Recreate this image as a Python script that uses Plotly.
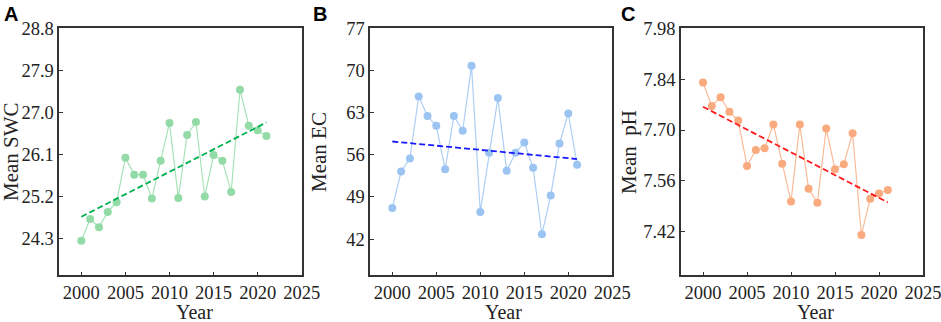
import numpy as np
import plotly.graph_objects as go

years = list(range(2000, 2022))

swc = [24.24, 24.71, 24.53, 24.86, 25.07, 26.02, 25.66, 25.66, 25.15, 25.96, 26.77,
       25.16, 26.51, 26.79, 25.19, 26.08, 25.96, 25.29, 27.48, 26.71, 26.61, 26.49]
ec = [47.19, 53.23, 55.39, 65.70, 62.43, 60.82, 53.62, 62.43, 59.99, 70.80, 46.52,
      56.33, 65.42, 53.34, 56.33, 58.05, 53.84, 42.81, 49.24, 57.88, 62.87, 54.34]
ph = [7.831, 7.766, 7.790, 7.750, 7.726, 7.601, 7.645, 7.650, 7.715, 7.607, 7.503,
      7.715, 7.538, 7.500, 7.704, 7.592, 7.606, 7.691, 7.411, 7.511, 7.525, 7.535]

x_ticks = [2000, 2005, 2010, 2015, 2020, 2025]
swc_ticks = [24.3, 25.2, 26.1, 27.0, 27.9, 28.8]
ec_ticks = [42, 49, 56, 63, 70, 77]
ph_ticks = [7.42, 7.56, 7.70, 7.84, 7.98]

panel_letters = ["A", "B", "C"]
y_titles = ["Mean SWC", "Mean EC", "Mean\u00a0\u00a0pH"]

W, H = 941, 322
FONT = "Liberation Serif, Times New Roman, serif"
AX = "#333333"

panels = [
    dict(vals=swc, ticks=swc_ticks, rng=[23.5, 28.8], fmt=".1f",
         mc="#93dba6", lc="#a8e3b8", tc="#00b050", x0=59.3, x1=301.7,
         letter_x=2, ytitle_x=11, year_x=194.5),
    dict(vals=ec, ticks=ec_ticks, rng=[36, 77], fmt="d",
         mc="#9cc4f3", lc="#aecff5", tc="#1a1aff", x0=370.3, x1=612.3,
         letter_x=311, ytitle_x=319, year_x=503),
    dict(vals=ph, ticks=ph_ticks, rng=[7.30, 7.98], fmt=".2f",
         mc="#f9ab7f", lc="#fabb97", tc="#ff1a1a", x0=681, x1=923,
         letter_x=619, ytitle_x=629, year_x=815),
]

top_px, bot_px = 28.3, 275.3
ydom = [1 - bot_px / H, 1 - top_px / H]

fig = go.Figure()
annotations = []
for i, p in enumerate(panels):
    n = "" if i == 0 else str(i + 1)
    xa, ya = "x" + n, "y" + n
    fig.add_trace(go.Scatter(
        x=years, y=p["vals"], mode="lines+markers", xaxis=xa, yaxis=ya,
        line=dict(color=p["lc"], width=1.2),
        marker=dict(color=p["mc"], size=8, line=dict(width=0)),
        showlegend=False))
    coef = np.polyfit(years, p["vals"], 1)
    tx = [years[0], years[-1]]
    ty = list(np.polyval(coef, tx))
    fig.add_trace(go.Scatter(
        x=tx, y=ty, mode="lines", xaxis=xa, yaxis=ya,
        line=dict(color=p["tc"], width=1.8, dash="6px,3px"),
        showlegend=False))
    axis_common = dict(showline=True, linecolor=AX, linewidth=1.5, mirror=True,
                       ticks="inside", ticklen=4, tickwidth=1.2, tickcolor=AX,
                       showgrid=False, zeroline=False, automargin=False,
                       ticklabeloverflow="allow",
                       tickfont=dict(family=FONT, size=18.5, color="#222222"))
    fig.update_layout(**{
        ("xaxis" + n): dict(domain=[p["x0"] / W, p["x1"] / W], range=[1997.5, 2025],
                            tickvals=x_ticks, anchor=ya, **axis_common),
        ("yaxis" + n): dict(domain=ydom, range=p["rng"], tickvals=p["ticks"],
                            tickformat=p["fmt"], anchor=xa, **axis_common),
    })
    annotations.append(dict(text="<b>%s</b>" % panel_letters[i], x=p["letter_x"] / W, y=1 - 1 / H,
                            xref="paper", yref="paper", xanchor="left", yanchor="top",
                            showarrow=False, font=dict(family="Liberation Sans, Arial", size=20, color="#000")))
    annotations.append(dict(text=y_titles[i], x=p["ytitle_x"] / W, y=1 - 152 / H,
                            xref="paper", yref="paper", xanchor="center", yanchor="middle",
                            textangle=-90, showarrow=False,
                            font=dict(family=FONT, size=21, color="#222222")))
    annotations.append(dict(text="Year", x=p["year_x"] / W, y=1 - 312 / H,
                            xref="paper", yref="paper", xanchor="center", yanchor="middle",
                            showarrow=False, font=dict(family=FONT, size=20, color="#222222")))

fig.update_layout(width=W, height=H, margin=dict(l=0, r=0, t=0, b=0),
                  paper_bgcolor="white", plot_bgcolor="white",
                  annotations=annotations)
fig.write_html("out.html", config={"displayModeBar": False},
               post_script="document.body.style.margin='0';document.body.style.overflow='hidden';")
